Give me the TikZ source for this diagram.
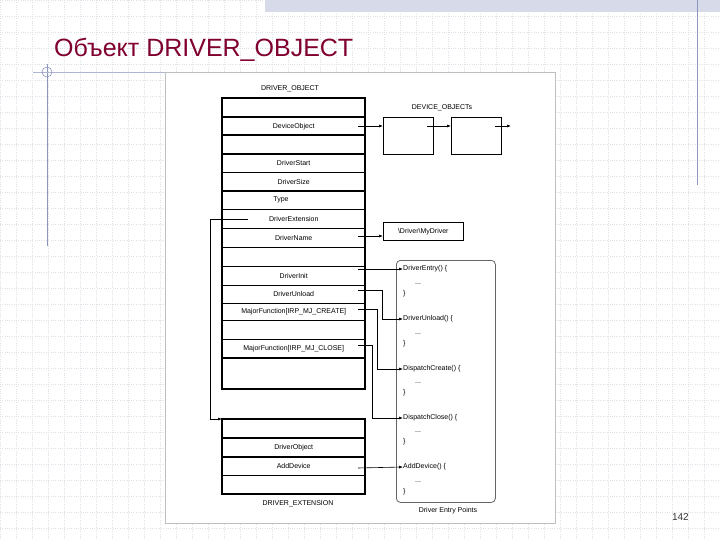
\documentclass[tikz,border=0pt]{standalone}
\usepackage{fontspec}
\setmainfont{Liberation Sans}
\usetikzlibrary{arrows.meta}
\definecolor{titlered}{RGB}{128,0,48}
\definecolor{gridc}{RGB}{222,226,232}
\definecolor{framec}{RGB}{140,150,190}
\begin{document}
\begin{tikzpicture}[x=1pt,y=-1pt,
  lbl/.style={font=\fontsize{7}{8}\selectfont, inner sep=0pt},
  row/.style={draw=none, minimum width=143pt, inner sep=0pt, anchor=north west, font=\fontsize{7}{8}\selectfont},
  thick line/.style={line width=1.3pt},
  thin line/.style={line width=0.6pt},
  arr/.style={line width=0.6pt, -{Latex[length=4pt,width=3pt]}},
  dev/.style={draw, line width=1.1pt, minimum width=50pt, minimum height=37pt, inner sep=0pt, anchor=north west}]
\useasboundingbox (0,0) rectangle (720,540);
\fill[white] (0,0) rectangle (720,540);
% background grid
\foreach \i in {0,16,...,720} \draw[gridc, line width=0.3pt, dotted] (\i,0) -- (\i,540);
\foreach \j in {0,16,...,540} \draw[gridc, line width=0.3pt, dotted] (0,\j) -- (720,\j);
\fill[framec!35] (265,0) rectangle (720,12);
\draw[framec, line width=0.8pt] (697,0) -- (697,185);
\draw[framec, line width=0.8pt] (47,64) -- (47,246);
\draw[framec!70, line width=0.6pt] (33,72) -- (165,72);
\draw[framec, line width=0.6pt] (47,72) circle (5);
\node[anchor=west, inner sep=0pt, text=titlered, font=\fontsize{25}{27}\selectfont] (title) at (54,50) {Объект DRIVER\_OBJECT};
\node[anchor=east, inner sep=0pt, font=\fontsize{10}{12}\selectfont, text=black!80] (pg) at (689,517) {142};
% panel
\draw[black!25, fill=white, line width=0.5pt] (165,72) rectangle (555,523);
% DRIVER_OBJECT
\node[lbl] (dotitle) at (290,89) {DRIVER\_OBJECT};
\foreach \y in {172,209,228,247,266,285,303,320,339} \draw[thin line] (222,\y) -- (365,\y);
\foreach \y in {117,135,154,191,358} \draw[thick line] (222,\y) -- (365,\y);
\draw[thick line] (222,98) rectangle (365,389);
\node[row, minimum height=18pt] (devobj) at (222,117) {DeviceObject};
\node[row, minimum height=18pt] (dstart) at (222,154) {DriverStart};
\node[row, minimum height=19pt] (dsize) at (222,172) {DriverSize};
\node[lbl] (type) at (281,200) {Type};
\node[row, minimum height=19pt] (dext) at (222,209) {DriverExtension};
\node[row, minimum height=19pt] (dname) at (222,228) {DriverName};
\node[row, minimum height=19pt] (dinit) at (222,266) {DriverInit};
\node[row, minimum height=18pt] (dunload) at (222,285) {DriverUnload};
\node[row, minimum height=17pt] (mcreate) at (222,303) {MajorFunction[IRP\_MJ\_CREATE]};
\node[row, minimum height=19pt] (mclose) at (222,339) {MajorFunction[IRP\_MJ\_CLOSE]};
% device objects
\node[lbl] (dotxt) at (442,108) {DEVICE\_OBJECTs};
\node[dev] (dev1) at (383,117) {};
\node[dev] (dev2) at (451,117) {};
\coordinate (s0) at (358,126);
\coordinate (s1) at (427,126);
\coordinate (s2) at (495,126);
\coordinate (e2) at (511,126);
\draw[arr] (s0) -- (s0 -| dev1.west);
\draw[arr] (s1) -- (s1 -| dev2.west);
\draw[arr] (s2) -- (e2);
% name
\node[draw, line width=0.6pt, anchor=north west, minimum width=80pt, minimum height=18pt, inner sep=0pt, font=\fontsize{7}{8}\selectfont] (mydrv) at (383,222) {\textbackslash Driver\textbackslash MyDriver};
\coordinate (sn) at (358,236);
\draw[arr] (sn) -- (sn -| mydrv.west);
% entry points
\node[draw=black!60, rounded corners=4pt, line width=0.8pt, anchor=north west, minimum width=99pt, minimum height=242pt, inner sep=0pt] (ep) at (396,260) {};
\node[lbl] (eptitle) at (448,511) {Driver Entry Points};
\begin{scope}[every node/.style={lbl, anchor=west}]
\node (fentry) at (403,269) {DriverEntry() \{};
\node (f1a) at (415,284) {...};
\node (f1b) at (403,294) {\}};
\node (funload) at (403,319) {DriverUnload() \{};
\node (f2a) at (415,334) {...};
\node (f2b) at (403,344) {\}};
\node (fcreate) at (403,369) {DispatchCreate() \{};
\node (f3a) at (415,383) {...};
\node (f3b) at (403,393) {\}};
\node (fclose) at (403,418) {DispatchClose() \{};
\node (f4a) at (415,432) {...};
\node (f4b) at (403,442) {\}};
\node (fadd) at (403,467) {AddDevice() \{};
\node (f5a) at (415,482) {...};
\node (f5b) at (403,492) {\}};
\end{scope}
\coordinate (si) at (358,269);
\draw[arr] (si) -- (fentry.west);
\coordinate (su) at (358,290);
\draw[arr] (su) -| (382,319) -- (funload.west);
\coordinate (sc) at (358,309);
\draw[arr] (sc) -| (377,369) -- (fcreate.west);
\coordinate (sl) at (358,345);
\draw[arr] (sl) -| (372,418) -- (fclose.west);
% DRIVER_EXTENSION
\draw[thin line] (222,475) -- (365,475);
\draw[thick line] (222,438) -- (365,438);
\draw[thick line] (222,457) -- (365,457);
\draw[thick line] (222,419) rectangle (365,494);
\node[row, minimum height=19pt] (deobj) at (222,438) {DriverObject};
\node[row, minimum height=18pt] (deadd) at (222,457) {AddDevice};
\node[lbl] (detitle) at (298,504) {DRIVER\_EXTENSION};
\coordinate (sa) at (358,468);
\draw[arr] (sa) -- (fadd.west);
\coordinate (sx) at (248,219);
\coordinate (ex) at (222,419);
\draw[arr] (sx) -- (210,219) |- (ex);
\end{tikzpicture}
\end{document}
